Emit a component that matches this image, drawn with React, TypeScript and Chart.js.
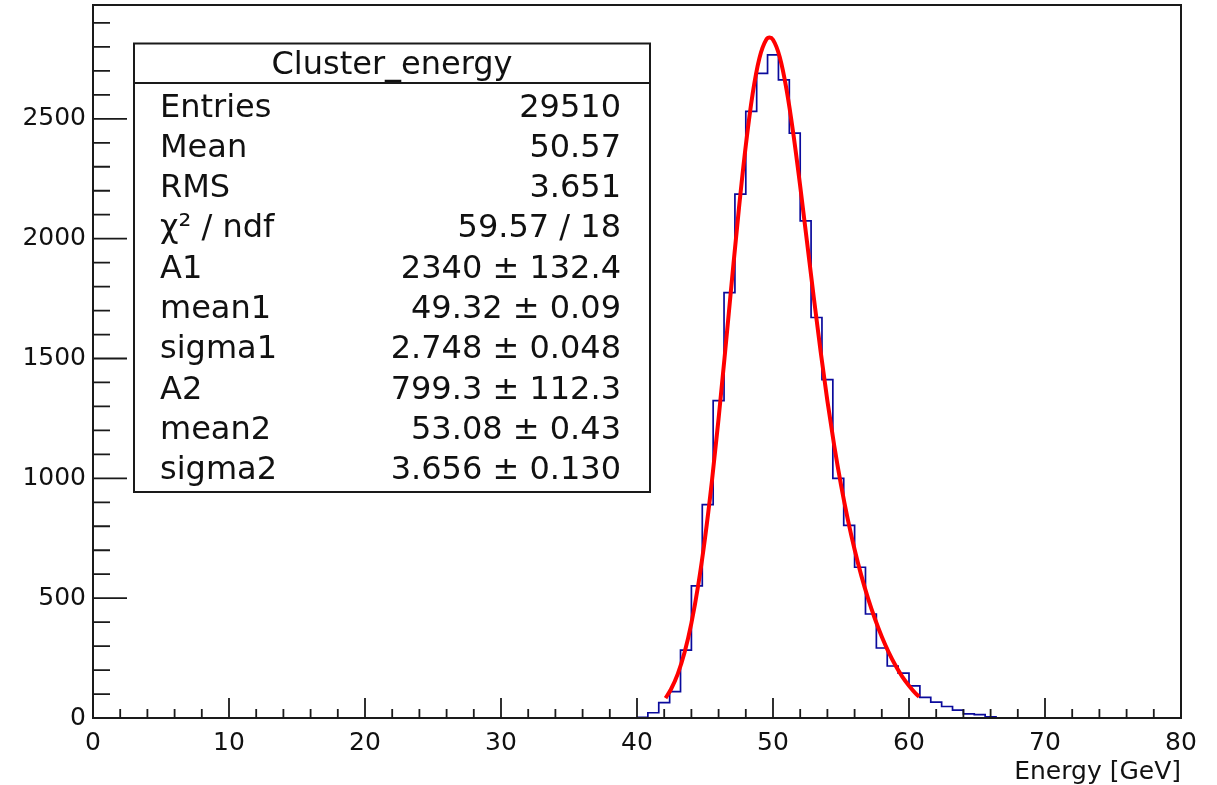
import React, { useEffect, useRef } from "react";
import { Chart, registerables } from "chart.js";

Chart.register(...registerables);

// ---------- data ----------
const histEdges = [
  40.0, 40.8, 41.6, 42.4, 43.2, 44.0, 44.8, 45.6, 46.4, 47.2, 48.0, 48.8,
  49.6, 50.4, 51.2, 52.0, 52.8, 53.6, 54.4, 55.2, 56.0, 56.8, 57.6, 58.4,
  59.2, 60.0, 60.8, 61.6, 62.4, 63.2, 64.0, 64.8, 65.6, 66.4,
];
const histCounts = [
  3, 22, 64, 110, 283, 551, 890, 1324, 1775, 2186, 2531, 2690, 2767, 2663,
  2440, 2074, 1671, 1412, 1000, 804, 629, 434, 292, 217, 187, 134, 86, 66,
  48, 33, 17, 14, 5,
];

const fitX = [
  42.1, 42.5, 43.0, 43.5, 44.0, 44.5, 45.0, 45.5, 46.0, 46.5, 47.0, 47.5,
  48.0, 48.5, 49.0, 49.5, 49.75, 50.0, 50.5, 51.0, 51.5, 52.0, 52.5, 53.0,
  53.5, 54.0, 54.5, 55.0, 55.5, 56.0, 56.5, 57.0, 57.5, 58.0, 58.5, 59.0,
  59.5, 60.0, 60.5, 60.75,
];
const fitY = [
  83, 120, 184, 274, 396, 554, 750, 984, 1250, 1540, 1839, 2129,
  2389, 2603, 2753, 2830, 2839, 2830, 2757, 2621, 2436, 2219, 1987, 1754,
  1530, 1323, 1137, 973, 829, 703, 593, 497, 413, 339, 275, 220,
  173, 135, 102, 89,
];

const xTicks = [0, 10, 20, 30, 40, 50, 60, 70, 80];
const yTicks = [0, 500, 1000, 1500, 2000, 2500];
const xMinorStep = 2;
const yMinorStep = 100;
const xRange = [0, 80];
const yRange = [0, 2975];
const xTitle = "Energy [GeV]";

const statTitle = "Cluster_energy";
const statLabels = [
  "Entries", "Mean", "RMS", "χ² / ndf", "A1", "mean1", "sigma1", "A2", "mean2", "sigma2",
];
const statValues = [
  "29510", "50.57", "3.651", "59.57 / 18", "2340 ± 132.4", "49.32 ± 0.09",
  "2.748 ± 0.048", "799.3 ± 112.3", "53.08 ± 0.43", "3.656 ± 0.130",
];

// ---------- styling ----------
const FONT = '"DejaVu Sans", "Liberation Sans", sans-serif';
const AXIS_COLOR = "#1a1a1a";

const rootFrame = {
  id: "rootFrame",
  afterDraw(chart: any) {
    const { ctx, chartArea: a, scales } = chart;
    const xs = scales.x;
    const ys = scales.y;
    ctx.save();
    ctx.strokeStyle = AXIS_COLOR;
    ctx.lineWidth = 2;
    ctx.strokeRect(a.left, a.top, a.right - a.left, a.bottom - a.top);

    ctx.lineWidth = 1.8;
    ctx.beginPath();
    for (let v = xRange[0]; v <= xRange[1] + 1e-9; v += xMinorStep) {
      const px = xs.getPixelForValue(v);
      const major = xTicks.some((t) => Math.abs(t - v) < 1e-6);
      ctx.moveTo(px, a.bottom);
      ctx.lineTo(px, a.bottom - (major ? 20 : 9));
    }
    for (let v = yRange[0]; v <= yRange[1] + 1e-9; v += yMinorStep) {
      const py = ys.getPixelForValue(v);
      const major = yTicks.some((t) => Math.abs(t - v) < 1e-6);
      ctx.moveTo(a.left, py);
      ctx.lineTo(a.left + (major ? 34 : 17), py);
    }
    ctx.stroke();

    // statistics box
    const bx = 134, by = 43.5, bw = 516, bh = 448.5;
    ctx.fillStyle = "#ffffff";
    ctx.fillRect(bx, by, bw, bh);
    ctx.lineWidth = 2;
    ctx.strokeRect(bx, by, bw, bh);
    ctx.beginPath();
    ctx.moveTo(bx, 83);
    ctx.lineTo(bx + bw, 83);
    ctx.stroke();

    ctx.fillStyle = "#111111";
    ctx.font = `32px ${FONT}`;
    ctx.textBaseline = "alphabetic";
    ctx.textAlign = "center";
    ctx.fillText(statTitle, bx + bw / 2, 74);
    for (let i = 0; i < statLabels.length; i++) {
      const base = 116.5 + i * 40.3;
      ctx.textAlign = "left";
      ctx.fillText(statLabels[i], 160, base);
      ctx.textAlign = "right";
      ctx.fillText(statValues[i], 621, base);
    }
    ctx.restore();
  },
};

export default function App() {
  const canvasRef = useRef<HTMLCanvasElement | null>(null);

  useEffect(() => {
    const canvas = canvasRef.current;
    if (!canvas) return;
    const chart = new Chart(canvas, {
      type: "line",
      data: {
        datasets: [
          {
            label: "fit",
            data: fitX.map((x, i) => ({ x, y: fitY[i] })),
            borderColor: "#ff0000",
            borderWidth: 4,
            pointRadius: 0,
            cubicInterpolationMode: "monotone",
            fill: false,
            order: 0,
          },
          {
            label: "hist",
            data: histEdges.map((x, i) => ({ x, y: i < histCounts.length ? histCounts[i] : 0 })),
            borderColor: "#0a0a9c",
            borderWidth: 1.7,
            pointRadius: 0,
            stepped: "before",
            fill: false,
            order: 1,
          },
        ],
      },
      options: {
        animation: false,
        responsive: false,
        devicePixelRatio: 1,
        events: [],
        layout: { padding: { left: 0, right: 36, top: 5, bottom: 0 } },
        plugins: {
          legend: { display: false },
          tooltip: { enabled: false },
          title: { display: false },
        },
        scales: {
          x: {
            type: "linear",
            min: xRange[0],
            max: xRange[1],
            grid: { display: false, drawTicks: false, tickLength: 0 },
            border: { display: false },
            afterBuildTicks: (s: any) => {
              s.ticks = xTicks.map((v) => ({ value: v }));
            },
            ticks: {
              font: { family: FONT, size: 25 },
              color: "#111111",
              padding: 10,
              maxRotation: 0,
              autoSkip: false,
              callback: (v: any) => String(v),
            },
            title: {
              display: true,
              text: xTitle,
              align: "end",
              color: "#111111",
              font: { family: FONT, size: 25, lineHeight: 1 },
              padding: { top: 0, bottom: 0 },
            },
            afterFit: (s: any) => {
              s.height = 67;
              s.paddingLeft = 0;
              s.paddingRight = 0;
            },
          },
          y: {
            type: "linear",
            min: yRange[0],
            max: yRange[1],
            grid: { display: false, drawTicks: false, tickLength: 0 },
            border: { display: false },
            afterBuildTicks: (s: any) => {
              s.ticks = yTicks.map((v) => ({ value: v }));
            },
            ticks: {
              font: { family: FONT, size: 25 },
              color: "#111111",
              padding: 7,
              autoSkip: false,
              callback: (v: any) => String(v),
            },
            afterFit: (s: any) => {
              s.width = 93;
              s.paddingTop = 0;
              s.paddingBottom = 0;
            },
          },
        },
      } as any,
      plugins: [rootFrame],
    });
    return () => chart.destroy();
  }, []);

  return (
    <div
      style={{
        position: "fixed",
        left: 0,
        top: 0,
        width: 1217,
        height: 785,
        background: "#ffffff",
      }}
    >
      <canvas ref={canvasRef} width={1217} height={785} style={{ display: "block" }} />
    </div>
  );
}
